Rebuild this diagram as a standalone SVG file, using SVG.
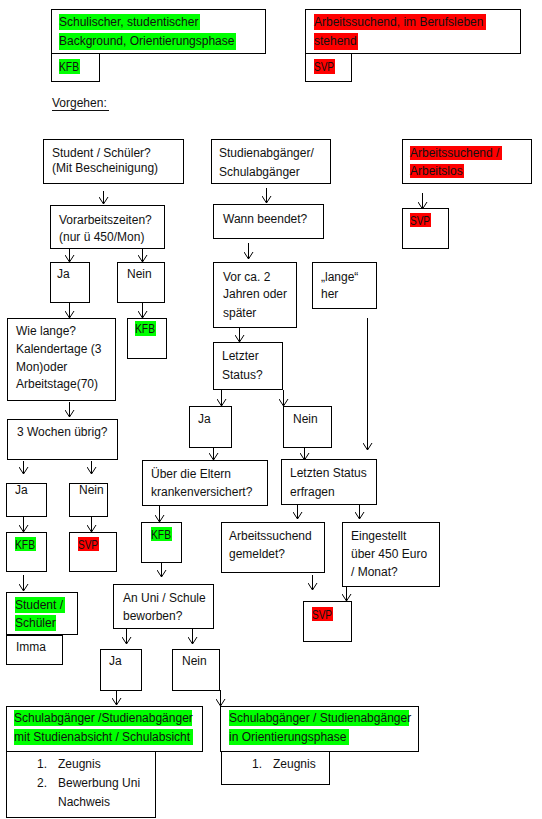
<svg xmlns="http://www.w3.org/2000/svg" width="542" height="819" viewBox="0 0 542 819">
<style>
rect.b{fill:#fff;stroke:#000;stroke-width:1}
rect.g{fill:#00ff00;stroke:none}
rect.r{fill:#ff0000;stroke:none}
text{font-family:"Liberation Sans",Arial,sans-serif;font-size:12px;fill:#111}
#connectors path{fill:none;stroke:#000;stroke-width:1;marker-end:url(#ah)}
</style>
<defs>
<marker id="ah" viewBox="0 0 7 10" refX="7" refY="5" markerWidth="7" markerHeight="10" markerUnits="userSpaceOnUse" orient="auto">
<path d="M0,0.5 L7,5 L0,9.5" fill="none" stroke="#000" stroke-width="1"/>
</marker>
</defs>
<rect width="542" height="819" fill="#fff"/>

<g id="legend-kfb">
<rect class="b" x="51.5" y="9.5" width="214" height="44"/>
<rect class="g" x="59" y="14" width="141" height="16"/>
<rect class="g" x="59" y="33" width="177" height="17"/>
<text x="59" y="26">Schulischer, studentischer</text>
<text x="59" y="45">Background, Orientierungsphase</text>
<rect class="b" x="51.5" y="53.5" width="48" height="28"/>
<rect class="g" x="59" y="59" width="21" height="15"/>
<text x="59" y="71" textLength="20" lengthAdjust="spacingAndGlyphs">KFB</text>
</g>

<g id="legend-svp">
<rect class="b" x="305.5" y="9.5" width="215" height="44"/>
<rect class="r" x="314" y="14" width="172" height="16"/>
<rect class="r" x="314" y="33" width="44" height="17"/>
<text x="314" y="26">Arbeitssuchend, im Berufsleben</text>
<text x="314" y="45">stehend</text>
<rect class="b" x="305.5" y="53.5" width="46" height="28"/>
<rect class="r" x="314" y="59" width="21" height="15"/>
<text x="314" y="71" textLength="20" lengthAdjust="spacingAndGlyphs">SVP</text>
</g>

<g id="vorgehen">
<text x="52" y="107">Vorgehen:</text>
<line x1="52" y1="110.5" x2="109" y2="110.5" stroke="#111" stroke-width="1"/>
</g>

<g id="connectors">
<path d="M103.5,191 V204"/>
<path d="M69.5,248 V262"/>
<path d="M142.5,248 V262"/>
<path d="M69.5,302 V318"/>
<path d="M142.5,302 V318"/>
<path d="M69.5,402 V417"/>
<path d="M23.5,461 V474"/>
<path d="M91.5,461 V474"/>
<path d="M23.5,517 V532"/>
<path d="M91.5,517 V532"/>
<path d="M23.5,575 V591"/>
<path d="M266.5,188 V203"/>
<path d="M248.5,243 V259"/>
<path d="M367.5,318 V450"/>
<path d="M239.5,327 V342"/>
<path d="M221.5,390 V406"/>
<path d="M283.5,390 V406"/>
<path d="M213.5,447 V460"/>
<path d="M304.5,447 V460"/>
<path d="M159.5,506 V522"/>
<path d="M161.5,562 V577"/>
<path d="M126.5,628 V644"/>
<path d="M192.5,628 V644"/>
<path d="M116.5,689 V705"/>
<path d="M220.5,690 V706"/>
<path d="M297.5,505 V519"/>
<path d="M359.5,505 V519"/>
<path d="M312.5,575 V590"/>
<path d="M346.5,586 V601"/>
<path d="M422.5,193 V209"/>
</g>

<g id="student">
<rect class="b" x="43.5" y="139.5" width="140" height="44"/>
<text x="52" y="157">Student / Schüler?</text>
<text x="52" y="172">(Mit Bescheinigung)</text>
</g>
<g id="vorarbeit">
<rect class="b" x="50.5" y="205.5" width="114" height="43"/>
<text x="59" y="224">Vorarbeitszeiten?</text>
<text x="59" y="241">(nur ü 450/Mon)</text>
</g>
<g id="ja1"><rect class="b" x="50.5" y="262.5" width="39" height="40"/><text x="57" y="278">Ja</text></g>
<g id="nein1"><rect class="b" x="117.5" y="262.5" width="47" height="40"/><text x="127" y="278">Nein</text></g>
<g id="wielange">
<rect class="b" x="7.5" y="318.5" width="108" height="82"/>
<text x="16" y="335">Wie lange?</text>
<text x="16" y="353">Kalendertage  (3</text>
<text x="16" y="371">Mon)oder</text>
<text x="16" y="388">Arbeitstage(70)</text>
</g>
<g id="kfb1">
<rect class="b" x="127.5" y="318.5" width="39" height="40"/>
<rect class="g" x="135" y="321" width="21" height="15"/>
<text x="135" y="333" textLength="20" lengthAdjust="spacingAndGlyphs">KFB</text>
</g>
<g id="dreiwochen">
<rect class="b" x="7.5" y="419.5" width="110" height="40"/>
<text x="17" y="436">3 Wochen übrig?</text>
</g>
<g id="ja2"><rect class="b" x="6.5" y="483.5" width="40" height="33"/><text x="15" y="494">Ja</text></g>
<g id="nein2"><rect class="b" x="69.5" y="483.5" width="38" height="33"/><text x="79" y="494">Nein</text></g>
<g id="kfb2">
<rect class="b" x="6.5" y="532.5" width="40" height="39"/>
<rect class="g" x="15" y="537" width="21" height="14"/>
<text x="15" y="549" textLength="20" lengthAdjust="spacingAndGlyphs">KFB</text>
</g>
<g id="svp2">
<rect class="b" x="69.5" y="532.5" width="47" height="39"/>
<rect class="r" x="78" y="537" width="21" height="14"/>
<text x="78" y="549" textLength="20" lengthAdjust="spacingAndGlyphs">SVP</text>
</g>
<g id="studentschueler">
<rect class="b" x="6.5" y="592.5" width="71" height="42"/>
<rect class="g" x="15" y="597" width="50" height="16"/>
<rect class="g" x="15" y="615" width="41" height="16"/>
<text x="15" y="609">Student /</text>
<text x="15" y="627">Schüler</text>
</g>
<g id="imma"><rect class="b" x="6.5" y="635.5" width="56" height="29"/><text x="16" y="651">Imma</text></g>

<g id="studienabgaenger">
<rect class="b" x="211.5" y="139.5" width="119" height="44"/>
<text x="219" y="157">Studienabgänger/</text>
<text x="219" y="176">Schulabgänger</text>
</g>
<g id="wannbeendet"><rect class="b" x="213.5" y="204.5" width="110" height="34"/><text x="223" y="223">Wann beendet?</text></g>
<g id="vorca2">
<rect class="b" x="213.5" y="262.5" width="83" height="65"/>
<text x="223" y="281">Vor ca. 2</text>
<text x="223" y="298">Jahren oder</text>
<text x="223" y="317">später</text>
</g>
<g id="langeher">
<rect class="b" x="312.5" y="262.5" width="64" height="46"/>
<text x="321" y="281">„lange“</text>
<text x="321" y="298">her</text>
</g>
<g id="letzterstatus">
<rect class="b" x="213.5" y="342.5" width="69" height="47"/>
<text x="222" y="360">Letzter</text>
<text x="222" y="379">Status?</text>
</g>
<g id="ja3"><rect class="b" x="189.5" y="406.5" width="42" height="41"/><text x="198" y="423">Ja</text></g>
<g id="nein3"><rect class="b" x="283.5" y="406.5" width="48" height="41"/><text x="293" y="423">Nein</text></g>
<g id="eltern">
<rect class="b" x="142.5" y="460.5" width="125" height="45"/>
<text x="151" y="478">Über die Eltern</text>
<text x="151" y="496">krankenversichert?</text>
</g>
<g id="letztenstatus">
<rect class="b" x="281.5" y="459.5" width="95" height="45"/>
<text x="290" y="477">Letzten Status</text>
<text x="290" y="496">erfragen</text>
</g>
<g id="kfb3">
<rect class="b" x="141.5" y="522.5" width="40" height="40"/>
<rect class="g" x="151" y="527" width="21" height="14"/>
<text x="151" y="539" textLength="20" lengthAdjust="spacingAndGlyphs">KFB</text>
</g>
<g id="anuni">
<rect class="b" x="113.5" y="584.5" width="100" height="44"/>
<text x="123" y="602">An Uni / Schule</text>
<text x="123" y="620">beworben?</text>
</g>
<g id="ja4"><rect class="b" x="100.5" y="649.5" width="41" height="41"/><text x="109" y="665">Ja</text></g>
<g id="nein4"><rect class="b" x="172.5" y="649.5" width="47" height="41"/><text x="182" y="665">Nein</text></g>
<g id="arbeitssuchendgemeldet">
<rect class="b" x="221.5" y="522.5" width="103" height="50"/>
<text x="229" y="540">Arbeitssuchend</text>
<text x="229" y="558">gemeldet?</text>
</g>
<g id="eingestellt">
<rect class="b" x="342.5" y="522.5" width="97" height="64"/>
<text x="351" y="540">Eingestellt</text>
<text x="351" y="558">über 450 Euro</text>
<text x="351" y="576">/ Monat?</text>
</g>
<g id="svp3">
<rect class="b" x="303.5" y="601.5" width="48" height="40"/>
<rect class="r" x="312" y="607" width="21" height="14"/>
<text x="312" y="619" textLength="20" lengthAdjust="spacingAndGlyphs">SVP</text>
</g>

<g id="arbeitslos">
<rect class="b" x="402.5" y="139.5" width="129" height="44"/>
<rect class="r" x="410" y="146" width="92" height="14"/>
<rect class="r" x="410" y="164" width="54" height="14"/>
<text x="410" y="157">Arbeitssuchend /</text>
<text x="410" y="175">Arbeitslos</text>
</g>
<g id="svp1">
<rect class="b" x="402.5" y="208.5" width="46" height="40"/>
<rect class="r" x="410" y="213" width="21" height="14"/>
<text x="410" y="225" textLength="20" lengthAdjust="spacingAndGlyphs">SVP</text>
</g>

<g id="studienabsicht">
<rect class="b" x="6.5" y="706.5" width="196" height="45"/>
<rect class="g" x="14" y="710" width="178" height="16"/>
<rect class="g" x="14" y="729" width="179" height="16"/>
<text x="14" y="722">Schulabgänger /Studienabgänger</text>
<text x="14" y="741">mit Studienabsicht / Schulabsicht</text>
</g>
<g id="liste1">
<rect class="b" x="6.5" y="751.5" width="149" height="66"/>
<text x="37" y="768">1.</text><text x="58" y="768">Zeugnis</text>
<text x="37" y="787">2.</text><text x="58" y="787">Bewerbung Uni</text>
<text x="58" y="806">Nachweis</text>
</g>
<g id="orientierung">
<rect class="b" x="220.5" y="706.5" width="198" height="45"/>
<rect class="g" x="229" y="710" width="180" height="16"/>
<rect class="g" x="229" y="729" width="120" height="16"/>
<text x="229" y="722">Schulabgänger / Studienabgänger</text>
<text x="229" y="741">in Orientierungsphase</text>
</g>
<g id="liste2">
<rect class="b" x="221.5" y="751.5" width="108" height="33"/>
<text x="252" y="768">1.</text><text x="273" y="768">Zeugnis</text>
</g>
</svg>
